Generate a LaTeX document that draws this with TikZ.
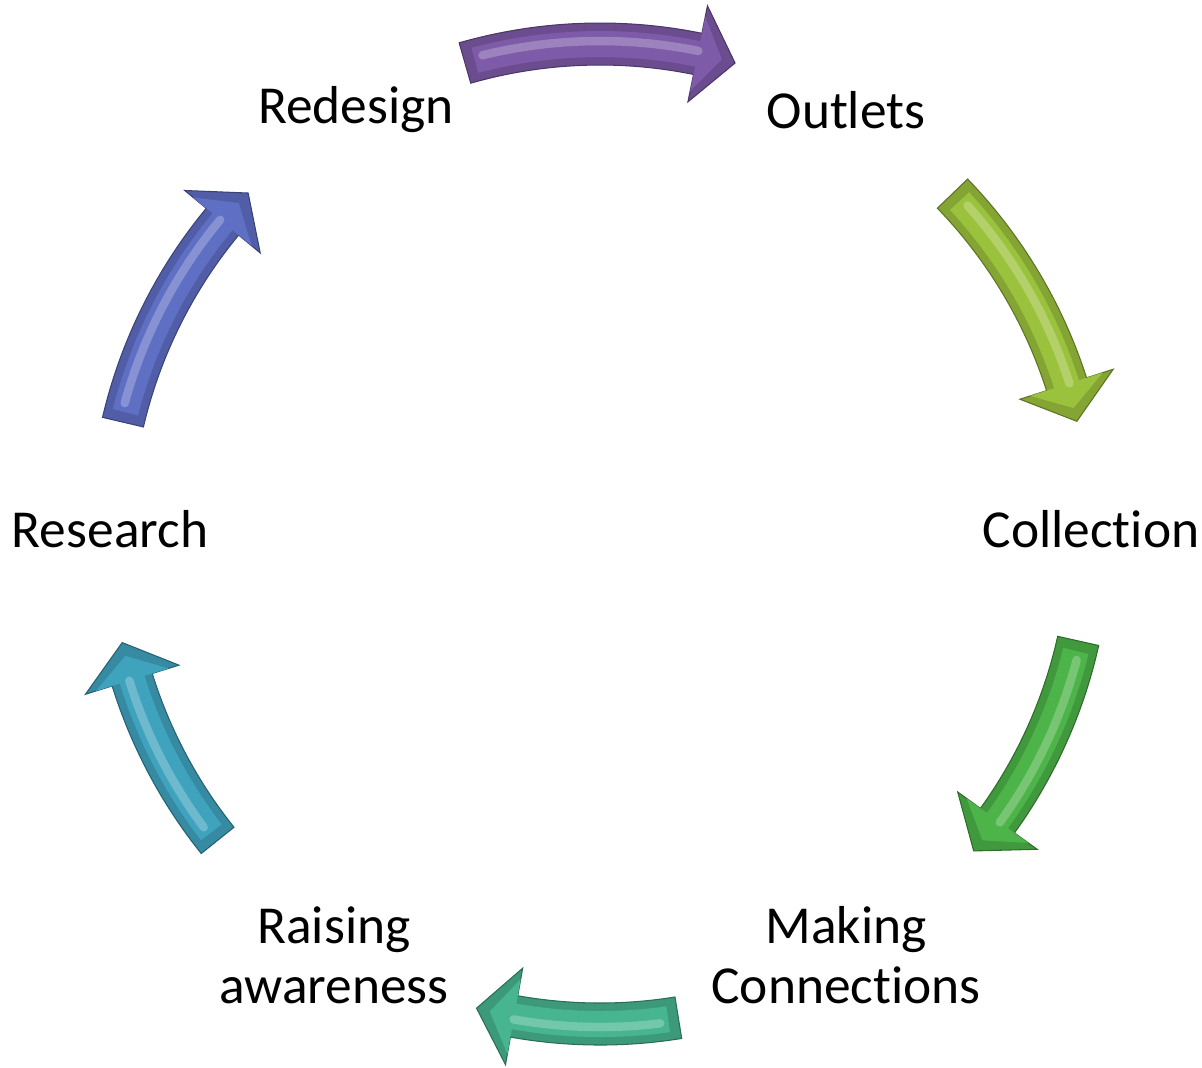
\documentclass[tikz,border=0pt]{standalone}
\usepackage{fontspec}
\setmainfont{Carlito}[Ligatures=NoCommon]
\usepackage{tikz}

\definecolor{cyPurple}{HTML}{7E5BA8}
\definecolor{cyLime}{HTML}{9BC23C}
\definecolor{cyGreen}{HTML}{4CB448}
\definecolor{cyTeal}{HTML}{47B58F}
\definecolor{cySky}{HTML}{3FA3BE}
\definecolor{cyBlue}{HTML}{5F6FC4}

% curved block arrow on the cycle: colour, tail angle, tip angle
\newcommand{\cycarrow}[3]{%
  \pgfmathsetmacro{\hb}{#3+4.5}
  \pgfmathsetmacro{\ta}{#2-1.2}
  \pgfmathsetmacro{\ti}{#3+1.6}
  \pgfmathsetmacro{\hl}{#2-2.2}
  \fill[#1!85!black, draw=#1!60!black, line width=0.3pt]
    (#2:5.11) arc[start angle=#2, end angle=\hb, radius=5.11]
    -- (\hb:5.39) -- (#3:4.9) -- (\hb:4.41) -- (\hb:4.69)
    arc[start angle=\hb, end angle=#2, radius=4.69] -- cycle;
  \fill[#1]
    (\ta:5.03) arc[start angle=\ta, end angle=\hb, radius=5.03]
    -- (\hb:5.28) -- (\ti:4.9) -- (\hb:4.52) -- (\hb:4.77)
    arc[start angle=\hb, end angle=\ta, radius=4.77] -- cycle;
  \draw[#1!65!white, opacity=0.7, line width=2.4pt, line cap=round]
    (\hl:4.93) arc[start angle=\hl, end angle=\hb, radius=4.93];
}

\tikzset{
  lbl/.style={font=\fontsize{15.2}{17}\selectfont, align=center, inner sep=0pt}
}

\begin{document}
\begin{tikzpicture}
  \useasboundingbox (0,0) rectangle (12.02,-10.67);

  % arrows round the cycle
  \begin{scope}[shift={(6,-5.34)}]
    \cycarrow{cyPurple}{106}{74}
    \cycarrow{cyLime}{44}{13.3}
    \cycarrow{cyGreen}{-12.6}{-40.3}
    \cycarrow{cyTeal}{-80.8}{-104.6}
    \cycarrow{cySky}{-141.3}{-167.2}
    \cycarrow{cyBlue}{166.8}{135.9}
  \end{scope}

  % labels
  \node[lbl, anchor=base] (redesign) at (3.56,-1.23) {Redesign};
  \node[lbl, anchor=base] (outlets) at (8.46,-1.28) {Outlets};
  \node[lbl, anchor=base] (collection) at (10.91,-5.47) {Collection};
  \node[lbl, anchor=base] (research) at (1.10,-5.47) {Research};
  \node[lbl] (making) at (8.46,-9.55) {Making\\Connections};
  \node[lbl] (raising) at (3.34,-9.55) {Raising\\awareness};
\end{tikzpicture}
\end{document}
